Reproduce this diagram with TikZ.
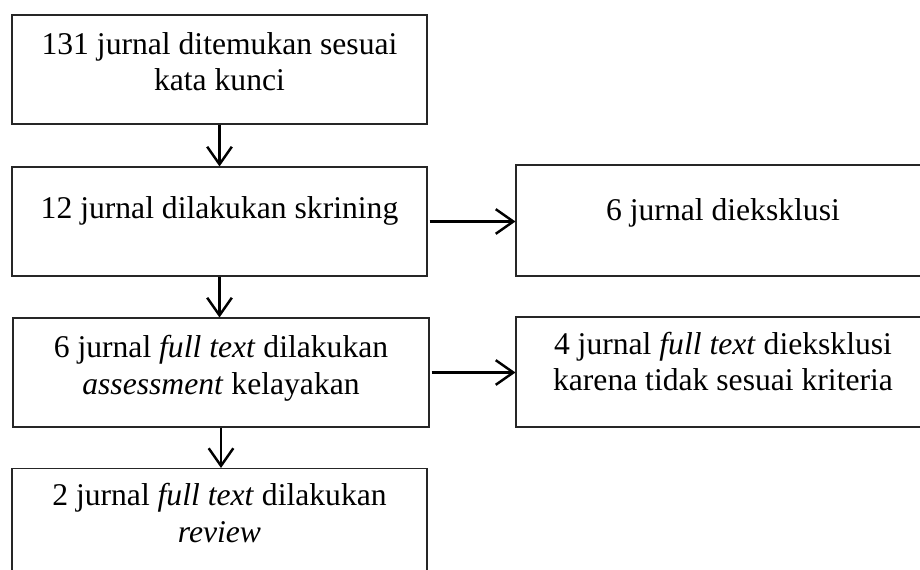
\documentclass[tikz,border=0pt]{standalone}
\usepackage{fontspec}
\setmainfont{Liberation Serif}
\usetikzlibrary{arrows.meta,positioning,calc}

\begin{document}
\begin{tikzpicture}[
  font=\fontsize{18}{20.8}\selectfont,
  % Node Styles
  stage/.style={draw, black!85, text=black, line width=0.6pt, align=center, minimum height=2.18cm, minimum width=8.3cm},
  excl/.style={stage, minimum height=2.2cm, minimum width=8.28cm},
  % Line Styles
  flow_line/.style={-{Straight Barb[length=10pt, width=14pt]}, line width=1.4pt, black}
]

% Fixed page size
\useasboundingbox (0,0) rectangle (18.4,-11.38);

% ================= NODES =================

% --- Main Flow (Left Column) ---
\node[stage, text depth=8.9pt]  (found)  at (4.39, -1.39)  {131 jurnal ditemukan sesuai\\kata kunci};
\node[stage, text depth=15.9pt] (screen) at (4.39, -4.43)  {12 jurnal dilakukan skrining};
\node[stage, text depth=8.9pt, minimum width=8.32cm] (assess) at (4.42, -7.45) {6 jurnal \textit{full text} dilakukan\\\textit{assessment} kelayakan};
\node[stage, text depth=11.7pt] (review) at (4.39, -10.46) {2 jurnal \textit{full text} dilakukan\\\textit{review}};

% --- Excluded (Right Column) ---
\node[excl, text depth=12.9pt, minimum height=2.22cm] (out1) at (14.46, -4.41) {6 jurnal dieksklusi};
\node[excl, text depth=12pt] (out2) at (14.46, -7.44) {4 jurnal \textit{full text} dieksklusi\\karena tidak sesuai kriteria};

% ================= CONNECTIONS =================

% 1. Down the main flow
\draw[flow_line] (found.south)  -- (found.south |- screen.north);
\draw[flow_line] (screen.south) -- (screen.south |- assess.north);
\draw[flow_line] (assess.south) -- (assess.south |- review.north);

% 2. Exclusions to the right
\draw[flow_line] ($(screen.east)+(0.04,0)$) -- (screen.east -| out1.west);
\draw[flow_line] ($(assess.east)+(0.04,0)$) -- (assess.east -| out2.west);

\end{tikzpicture}
\end{document}
